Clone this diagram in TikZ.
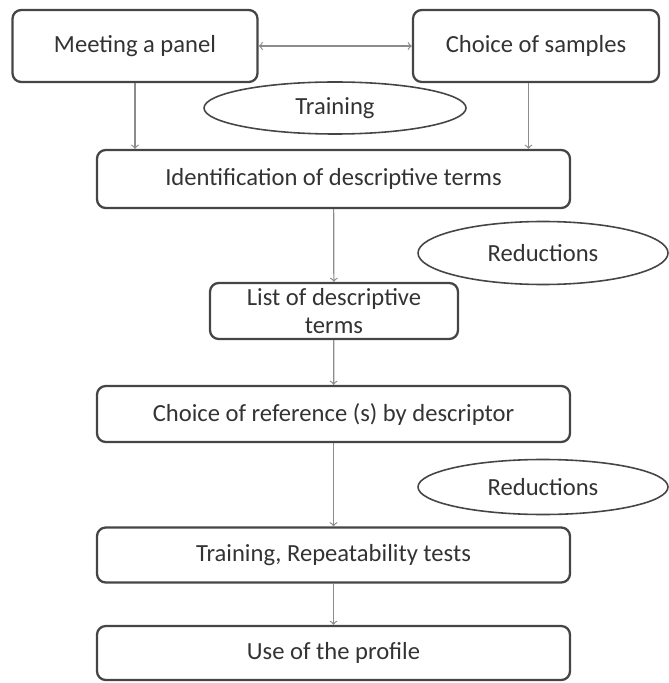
\documentclass[tikz,border=0pt]{standalone}
\usepackage{fontspec}
\setmainfont{Carlito}
\usepackage{tikz}
\usetikzlibrary{arrows,shapes,positioning,calc}
\definecolor{boxgray}{rgb}{0.27, 0.27, 0.27}
\definecolor{arrowgray}{rgb}{0.55, 0.55, 0.55}

\begin{document}
\begin{tikzpicture}[font=\fontsize{14}{15.5}\selectfont, text=black!80,
      step box/.style = {shape=rectangle, rounded corners=5pt,
        draw=boxgray, line width=1.3pt, align=center,
        minimum height=1.12cm, minimum width=9.46cm},
      small box/.style = {step box, minimum width=4.9cm},
      remark/.style = {shape=ellipse, draw=boxgray, line width=0.9pt,
        align=center, minimum height=1.1cm, minimum width=5cm},
      post/.style={->, >=to, color=arrowgray, line width=0.7pt}]

      \useasboundingbox (0,0) rectangle (13.36,-13.66);

      \node [small box, minimum height=1.44cm] (Meeting) at (2.7,-0.92) {Meeting a panel};
      \node [small box, minimum height=1.44cm, minimum width=4.92cm] (Samples) at (10.72,-0.92) {Choice of samples};
      \node [remark, minimum width=5.24cm, minimum height=1.04cm] (Training) at (6.7,-2.16) {Training};

      \node [step box, minimum height=1.16cm] (Ident) at (6.67,-3.58) {Identification of descriptive terms};
      \node [remark, minimum height=1.26cm] (RedA) at (10.86,-5.06) {Reductions};
      \node [small box, minimum width=4.96cm, inner ysep=2pt] (List) at (6.68,-6.22) {List of descriptive\\ terms};
      \node [step box] (Reference) at (6.67,-8.28) {Choice of reference (s) by descriptor};
      \node [remark] (RedB) at (10.86,-9.74) {Reductions};
      \node [step box, minimum height=1.1cm] (Repeat) at (6.67,-11.1) {Training, Repeatability tests};
      \node [step box, minimum height=1.08cm] (Profile) at (6.67,-13.06) {Use of the profile};

      \draw[post, <->] (Meeting) -- (Samples);
      \draw[post] (Meeting.south) -- (Meeting.south |- Ident.north);
      \draw[post] ([xshift=-0.15cm]Samples.south) -- ([xshift=-0.15cm]Samples.south |- Ident.north);
      \draw[post] (Ident) -- (List);
      \draw[post] (List) -- (Reference);
      \draw[post] (Reference) -- (Repeat);
      \draw[post] (Repeat) -- (Profile);
    \end{tikzpicture}
\end{document}
